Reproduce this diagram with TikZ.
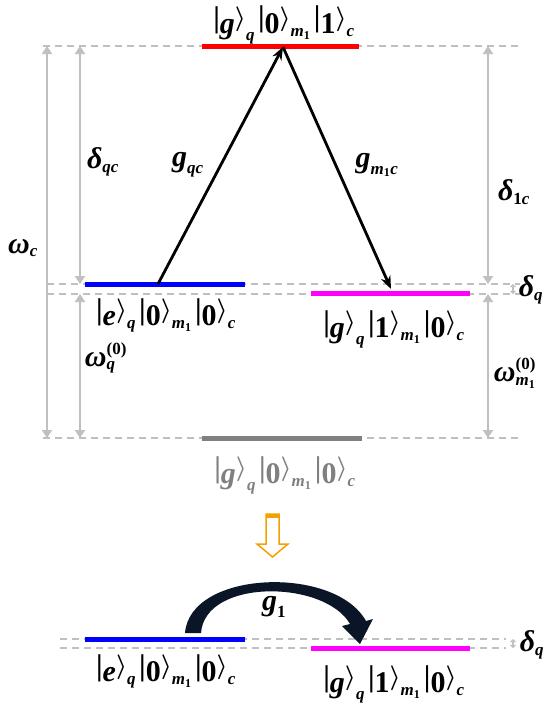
\documentclass[tikz,border=0pt]{standalone}
\usepackage{amsmath}
\usepackage{graphicx}
\usepackage{fontspec}
\setmainfont{Liberation Serif}
\DeclareMathSizes{30}{30}{17}{12}
\usetikzlibrary{arrows.meta}
\definecolor{lgray}{RGB}{192,192,192}
\definecolor{lvred}{RGB}{255,0,0}
\definecolor{lvblue}{RGB}{0,0,255}
\definecolor{lvmag}{RGB}{255,0,255}
\definecolor{lvgray}{RGB}{128,128,128}
\definecolor{orng}{RGB}{245,160,0}
\definecolor{navy}{RGB}{10,22,40}
\newcommand\bi[1]{\textbf{\textit{#1}}}
\newcommand\kbar{\raisebox{0.2em}{\textbf{|}}}
\newcommand\kang{\raisebox{0.25em}{\boldmath$\rangle$}}
\newcommand\kt[2]{\text{\kbar#1\kang}_{#2}}
\newcommand\subq{\text{\bi{q}}}
\newcommand\subc{\text{\bi{c}}}
\newcommand\subm{\text{\bi{m}}_{\text{\bfseries 1}}}
\newcommand\gap{\hspace{3pt}}
\begin{document}
\begin{tikzpicture}[x=1pt,y=-1pt,
  guide/.style={draw=lgray,line width=1.8pt,dash pattern=on 7pt off 5pt},
  level/.style={line width=5pt},
  garrow/.style={draw=lgray,line width=2pt,{Triangle[width=10pt,length=8pt]}-{Triangle[width=10pt,length=8pt]}},
  barrow/.style={draw=black,line width=2.8pt,-{Stealth[length=13pt,width=10pt]}},
  lbl/.style={font=\fontsize{30}{34}\selectfont,inner sep=0pt}]
\useasboundingbox (0,0) rectangle (544,704);

% guide lines
\coordinate (gTl) at (43,46);  \coordinate (gTr) at (520,46);
\coordinate (gAl) at (47,284); \coordinate (gAr) at (520,284);
\coordinate (gBl) at (47,294); \coordinate (gBr) at (520,294);
\coordinate (gGl) at (43,438); \coordinate (gGr) at (520,438);
\draw[guide] (gTl) -- (gTr);
\draw[guide] (gAl) -- (gAr);
\draw[guide] (gBl) -- (gBr);
\draw[guide] (gGl) -- (gGr);

% levels
\coordinate (rL) at (202,46);  \coordinate (rR) at (359,46);
\coordinate (bL) at (85,284);  \coordinate (bR) at (245,284);
\coordinate (mL) at (311,293); \coordinate (mR) at (470,293);
\coordinate (yL) at (202,438); \coordinate (yR) at (362,438);
\draw[level,lvred] (rL) -- (rR);
\draw[level,lvblue] (bL) -- (bR);
\draw[level,lvmag] (mL) -- (mR);
\draw[level,lvgray] (yL) -- (yR);

% gray double arrows
\coordinate (wcT) at (47,46);  \coordinate (wcB) at (47,438);
\coordinate (dqcT) at (80,46); \coordinate (dqcB) at (80,284);
\coordinate (wqT) at (80,294); \coordinate (wqB) at (80,438);
\coordinate (d1cT) at (488,46); \coordinate (d1cB) at (488,284);
\coordinate (wmT) at (488,294); \coordinate (wmB) at (488,438);
\coordinate (dqT) at (513,284); \coordinate (dqB) at (513,294);
\draw[garrow] (wcT) -- (wcB);
\draw[garrow] (dqcT) -- (dqcB);
\draw[garrow] (wqT) -- (wqB);
\draw[garrow] (d1cT) -- (d1cB);
\draw[garrow] (wmT) -- (wmB);
\draw[draw=lgray,line width=1.5pt,{Triangle[width=6pt,length=3pt]}-{Triangle[width=6pt,length=3pt]}] (dqT) -- (dqB);

% black arrows
\coordinate (aS) at (158,284);
\coordinate (aT) at (283,47);
\coordinate (aE) at (391,289);
\draw[barrow] (aS) -- (aT);
\draw[barrow] (aT) -- (aE);

% state labels
\node[lbl,anchor=base] (sTop) at (284,33) {$\kt{\bi{g}}{\subq}\gap\kt{\textbf{0}}{\subm}\gap\kt{\textbf{1}}{\subc}$};
\node[lbl,anchor=base] (sE) at (166,325) {$\kt{\bi{e}}{\subq}\gap\kt{\textbf{0}}{\subm}\gap\kt{\textbf{0}}{\subc}$};
\node[lbl,anchor=base] (sM) at (394,337) {$\kt{\bi{g}}{\subq}\gap\kt{\textbf{1}}{\subm}\gap\kt{\textbf{0}}{\subc}$};
\node[lbl,anchor=base,text=lvgray] (sG) at (285,483) {$\kt{\bi{g}}{\subq}\gap\kt{\textbf{0}}{\subm}\gap\kt{\textbf{0}}{\subc}$};

% parameter labels
\node[lbl] (Ldqc) at (103,162) {$\text{\bi{δ}}_{\subq\subc}$};
\node[lbl] (Lwc) at (23,248) {$\text{\bi{ω}}_{\subc}$};
\node[lbl] (Lwq) at (106,358) {$\text{\bi{ω}}^{\text{\bfseries (0)}}_{\subq}$};
\node[lbl] (Lgqc) at (188,165) {$\text{\bi{g}}_{\subq\subc}$};
\node[lbl] (Lgmc) at (377,165) {$\text{\bi{g}}_{\subm\subc}$};
\node[lbl] (Ld1c) at (514,192) {$\text{\bi{δ}}_{\text{\bfseries 1}\subc}$};
\node[lbl] (Ldq) at (531,290) {$\text{\bi{δ}}_{\subq}$};
\node[lbl] (Lwm) at (515,373) {$\text{\bi{ω}}^{\text{\bfseries (0)}}_{\subm}$};

% orange hollow arrow
\draw[orng,line width=1.5pt,fill=white,line join=miter]
  (266,514) -- (279,514) -- (279,544) -- (288,544) -- (272.5,557) -- (257,544) -- (266,544) -- cycle;
\fill[orng] (266,514) rectangle (279,518);

% bottom part
\coordinate (hAl) at (60,639); \coordinate (hAr) at (506,639);
\coordinate (hBl) at (60,648); \coordinate (hBr) at (506,648);
\draw[guide] (hAl) -- (hAr);
\draw[guide] (hBl) -- (hBr);
\coordinate (b2L) at (85,639);  \coordinate (b2R) at (245,639);
\coordinate (m2L) at (311,648); \coordinate (m2R) at (470,648);
\draw[level,lvblue] (b2L) -- (b2R);
\draw[level,lvmag] (m2L) -- (m2R);
\coordinate (dq2T) at (513,639); \coordinate (dq2B) at (513,648);
\draw[draw=lgray,line width=1.5pt,{Triangle[width=6pt,length=3pt]}-{Triangle[width=6pt,length=3pt]}] (dq2T) -- (dq2B);

% thick curved arrow
\fill[navy] (185,633) .. controls (190,570) and (335,565) .. (366,621)
  -- (373,619) -- (360,644) -- (342,626) -- (350,624)
  .. controls (325,580) and (205,578) .. (201,633) -- cycle;

\node[lbl] (Lg1) at (274,607) {$\text{\bi{g}}_{\text{\bfseries 1}}$};
\node[lbl,anchor=base] (sE2) at (166,681) {$\kt{\bi{e}}{\subq}\gap\kt{\textbf{0}}{\subm}\gap\kt{\textbf{0}}{\subc}$};
\node[lbl,anchor=base] (sM2) at (394,692) {$\kt{\bi{g}}{\subq}\gap\kt{\textbf{1}}{\subm}\gap\kt{\textbf{0}}{\subc}$};
\node[lbl] (Ldq2) at (532,645) {$\text{\bi{δ}}_{\subq}$};
\end{tikzpicture}
\end{document}
